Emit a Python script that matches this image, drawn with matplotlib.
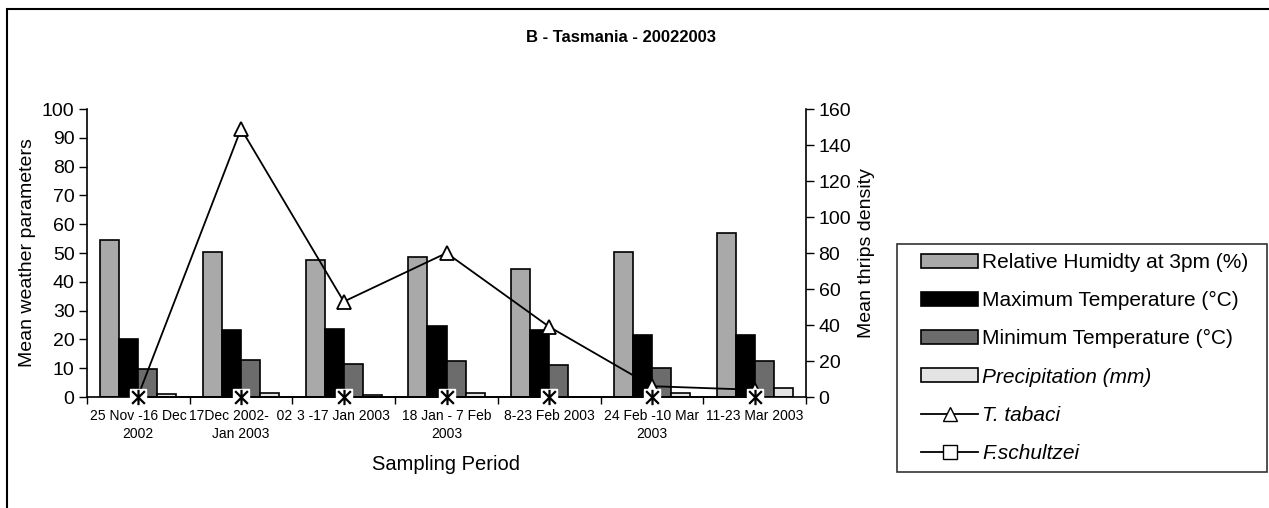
import matplotlib as mpl
import matplotlib.pyplot as plt
import numpy as np
from matplotlib.lines import Line2D
from matplotlib.patches import Patch, Rectangle
from matplotlib.path import Path

plt.rcParams['font.family'] = ['Liberation Sans', 'DejaVu Sans']

periods = ['25 Nov -16 Dec\n2002', '17Dec 2002-  02\nJan 2003', '3 -17 Jan 2003',
           '18 Jan - 7 Feb\n2003', '8-23 Feb 2003', '24 Feb -10 Mar\n2003', '11-23 Mar 2003']
humidity = [54.5, 50.5, 47.5, 48.5, 44.5, 50.5, 57.0]
max_temp = [20.3, 23.3, 23.6, 24.8, 23.3, 21.5, 21.5]
min_temp = [9.7, 12.8, 11.4, 12.5, 11.1, 10.0, 12.5]
precip = [1.2, 1.5, 0.6, 1.5, 0.0, 1.5, 3.1]
t_tabaci = [1.0, 149.0, 53.0, 80.0, 39.0, 6.0, 4.0]
f_schultzei = [0, 0, 0, 0, 0, 0, 0]

W, H = 1269, 508
fig = plt.figure(figsize=(W / 100, H / 100), dpi=100)
ax = fig.add_axes([87 / W, 1 - 397 / H, (806 - 87) / W, (397 - 109) / H])
ax2 = ax.twinx()

x = np.arange(len(periods))
bw = 0.185
bar_styles = [
    (humidity, '#a9a9a9', 'Relative Humidty at 3pm (%)'),
    (max_temp, 'black', 'Maximum Temperature (°C)'),
    (min_temp, '#6c6c6c', 'Minimum Temperature (°C)'),
    (precip, '#e4e4e4', 'Precipitation (mm)'),
]
handles = []
for i, (vals, col, lab) in enumerate(bar_styles):
    ax.bar(x + (i - 1.5) * bw, vals, bw, color=col, edgecolor='black', linewidth=1.2)
    handles.append(Patch(facecolor=col, edgecolor='black', linewidth=1.2, label=lab))

ax.set_xlim(-0.5, len(periods) - 0.5)
ax.set_ylim(0, 100)
ax.set_yticks(np.arange(0, 101, 10))
ax.set_xticks(x)
ax.set_xticklabels(periods, fontsize=10, linespacing=1.3)
ax.set_xticks(np.arange(-0.5, len(periods), 1), minor=True)
ax.tick_params(axis='x', which='major', length=0, pad=9)
ax.tick_params(axis='x', which='minor', length=5, width=1, direction='out')
ax.tick_params(axis='y', labelsize=14, length=6, width=1, direction='out', pad=3)
ax.set_ylabel('Mean weather parameters', fontsize=14, labelpad=4)
ax.set_xlabel('Sampling Period', fontsize=14.5, labelpad=10)
for s in ['top', 'right']:
    ax.spines[s].set_visible(False)
ax.spines['left'].set_linewidth(1.2)
ax.spines['bottom'].set_linewidth(1.2)

# thrips density on the right axis
ax2.set_ylim(0, 160)
ax2.set_yticks(np.arange(0, 161, 20))
ax2.tick_params(axis='y', labelsize=14, length=6, width=1, direction='out', pad=3)
ax2.set_ylabel('Mean thrips density', fontsize=14, labelpad=5)
for s in ['top', 'left', 'bottom']:
    ax2.spines[s].set_visible(False)
ax2.spines['right'].set_linewidth(1.2)

ax2.plot(x, t_tabaci, color='black', linewidth=1.3, marker='^', markersize=10,
         markerfacecolor='white', markeredgecolor='black', markeredgewidth=1.3, clip_on=False, zorder=3)
ax2.plot(x, f_schultzei, color='black', linewidth=1.3, marker='s', markersize=12,
         markerfacecolor='white', markeredgecolor='white', clip_on=False, zorder=4)
star = Path([(-1, -1), (1, 1), (-1, 1), (1, -1), (0, -1.2), (0, 1.2)],
            [Path.MOVETO, Path.LINETO, Path.MOVETO, Path.LINETO, Path.MOVETO, Path.LINETO])
ax2.plot(x, f_schultzei, linestyle='none', marker=star, markersize=11,
         markeredgecolor='black', markeredgewidth=1.6, clip_on=False, zorder=5)

handles.append(Line2D([], [], color='black', linewidth=1.3, marker='^', markersize=10,
                      markerfacecolor='white', markeredgecolor='black', label='T. tabaci'))
handles.append(Line2D([], [], color='black', linewidth=1.3, marker='s', markersize=10,
                      markerfacecolor='white', markeredgecolor='black', label='F.schultzei'))

leg = fig.legend(handles=handles, loc='upper left', bbox_to_anchor=(921 / W, 1 - 253 / H),
                 fontsize=15, frameon=False, handlelength=2.75, handleheight=0.65,
                 handletextpad=0.2, labelspacing=0.92, borderpad=0, borderaxespad=0)
for t in leg.get_texts()[3:]:
    t.set_style('italic')
# legend frame
fig.patches.append(Rectangle((897 / W, 1 - 472 / H), 370 / W, 228 / H, transform=fig.transFigure,
                             fill=False, edgecolor='#333333', linewidth=1.2))

fig.text(526 / W, 1 - 38 / H, 'B - Tasmania - 20022003', ha='left', va='center',
         fontsize=12, fontweight='bold')

fig.patches.append(Rectangle((7 / W, -0.1), 1.2, 1.1 - 9.5 / H, transform=fig.transFigure,
                             fill=False, edgecolor='black', linewidth=1.5))

fig.savefig('out.png', dpi=100)
